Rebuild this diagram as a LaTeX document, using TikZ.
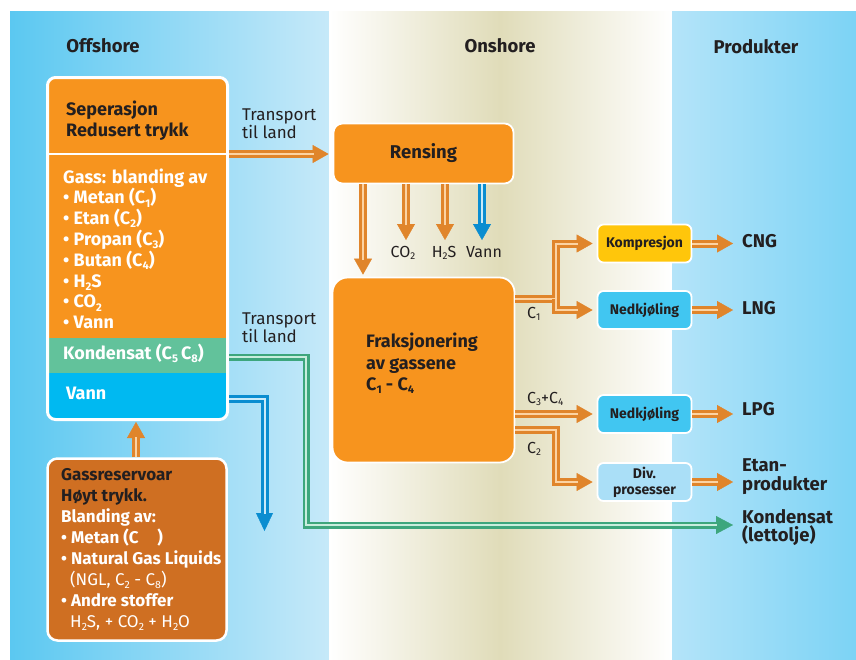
\documentclass[tikz,border=0pt]{standalone}
\usepackage{fontspec}
\setmainfont{Fira Sans}
\usepackage{graphicx}
\usetikzlibrary{arrows.meta}
\definecolor{offL}{HTML}{5BC8F1}
\definecolor{offR}{HTML}{C6E9F9}
\definecolor{onMid}{HTML}{E0DCB9}
\definecolor{prodL}{HTML}{B4E4F9}
\definecolor{prodR}{HTML}{7CD3F5}
\definecolor{orB}{HTML}{F7941E}
\definecolor{grK}{HTML}{62C29B}
\definecolor{blV}{HTML}{00B9F1}
\definecolor{gres}{HTML}{CF6F22}
\definecolor{kompY}{HTML}{FFC60B}
\definecolor{nedB}{HTML}{41C6F1}
\definecolor{divB}{HTML}{AADFF7}
\definecolor{dk}{HTML}{231F20}
\definecolor{pO}{HTML}{E0852B}
\definecolor{pOl}{HTML}{FCD3A2}
\definecolor{pG}{HTML}{3DA67D}
\definecolor{pGl}{HTML}{C8EDDD}
\definecolor{pB}{HTML}{0A8DD0}
\definecolor{pBl}{HTML}{C9EAF9}
\newcommand\sbs[1]{\raisebox{-0.35ex}{\scalebox{0.62}{#1}}}
\begin{document}
\begin{tikzpicture}[x=1pt,y=-1pt,
  hd/.style={font=\fontsize{18.5}{21}\selectfont\bfseries, text=dk, anchor=base, inner sep=0},
  dtxt/.style={font=\fontsize{18}{21}\selectfont\bfseries, text=dk, anchor=base west, inner sep=0},
  wtxt/.style={font=\fontsize{18}{21}\selectfont\bfseries, text=white, anchor=base west, inner sep=0},
  rtxt/.style={font=\fontsize{17}{19}\selectfont\bfseries, anchor=base west, inner sep=0},
  wreg/.style={font=\fontsize{17}{19}\selectfont, text=white, anchor=base west, inner sep=0},
  reg/.style={font=\fontsize{17}{20}\selectfont, text=dk, anchor=base west, inner sep=0},
  lab/.style={font=\fontsize{16}{19}\selectfont, text=dk, anchor=base, inner sep=0},
  prd/.style={font=\fontsize{18.5}{21}\selectfont\bfseries, text=dk, anchor=base west, inner sep=0},
  bx/.style={draw=white, line width=1.8pt, inner sep=0, align=center, text=dk},
  sbx/.style={bx, rounded corners=6pt, minimum width=94pt, minimum height=38pt, font=\fontsize{14}{16}\selectfont\bfseries},
  opipe/.style={line width=8pt, draw=pO, line join=miter, -{Triangle[width=18pt,length=16pt,line width=0.4pt]},
     postaction={draw=pOl, line width=2pt, -, shorten >=15pt}},
  gpipe/.style={line width=7pt, draw=pG, line join=miter, -{Triangle[width=18pt,length=17pt,line width=0.4pt]},
     postaction={draw=pGl, line width=2pt, -, shorten >=16pt}},
  bpipe/.style={line width=8pt, draw=pB, line join=miter, -{Triangle[width=17pt,length=18pt,line width=0.4pt]},
     postaction={draw=pBl, line width=2pt, -, shorten >=17pt}}
]
\useasboundingbox (0,0) rectangle (856,659);
\fill[white] (0,0) rectangle (856,659);
% background panels
\shade[left color=offL,right color=offR] (10,11) rectangle (329,659);
\shade[left color=white,right color=onMid] (329,11) rectangle (500,659);
\shade[left color=onMid,right color=white] (500,11) rectangle (672,659);
\shade[left color=prodL,right color=prodR] (672,11) rectangle (856,659);
% headings
\node[hd] (hoff) at (103,52) {Offshore};
\node[hd] (hon) at (500,52) {Onshore};
\node[hd] (hprod) at (756,53) {Produkter};
% separation box
\begin{scope}
\clip[rounded corners=7pt] (47.5,77.5) rectangle (227.5,419.5);
\fill[orB] (46,76) rectangle (229,338);
\fill[grK] (46,338) rectangle (229,373);
\fill[blV] (46,373) rectangle (229,421);
\draw[white, line width=1.2pt] (46,154) -- (229,154);
\end{scope}
\node[draw=white, line width=3pt, rounded corners=8pt, minimum width=180pt, minimum height=342pt, inner sep=0] (sep) at (137.5,248.5) {};
\node[dtxt] (s1) at (66,115) {Seperasjon};
\node[dtxt] (s2) at (66,136) {Redusert trykk};
\node[wtxt] (g0) at (63,183) {Gass: blanding av};
\foreach \t [count=\i] in {{Metan (C\sbs{1})},{Etan (C\sbs{2})},{Propan (C\sbs{3})},{Butan (C\sbs{4})},{H\sbs{2}S},{CO\sbs{2}},{Vann}}
  \node[wtxt] (g\i) at (63,{183+20.8*\i}) {• \t};
\node[wtxt] (kond) at (63,359) {Kondensat (C\sbs{5}\,C\sbs{8})};
\node[wtxt] (vann) at (66,399) {Vann};
% gas reservoir box
\node[draw=white, line width=2.5pt, fill=gres, rounded corners=10pt, minimum width=179pt, minimum height=182pt, inner sep=0] (gasres) at (137,549.5) {};
\node[rtxt, text=dk] (r1) at (61,480) {Gassreservoar};
\node[rtxt, text=dk] (r2) at (61,501) {Høyt trykk.};
\node[rtxt, text=white] (r3) at (61,522) {Blanding av:};
\node[rtxt, text=white] (r4) at (61,543) {• Metan (C\hspace{1.1em})};
\node[rtxt, text=white] (r5) at (61,564) {• Natural Gas Liquids};
\node[wreg] (r6) at (70,585) {(NGL, C\sbs{2} - C\sbs{8})};
\node[rtxt, text=white] (r7) at (61,606) {• Andre stoffer};
\node[wreg] (r8) at (70,627) {H\sbs{2}S, + CO\sbs{2} + H\sbs{2}O};
% transport labels
\node[reg] (tr1) at (242,120) {Transport};
\node[reg] (tr1b) at (242,138) {til land};
\node[reg] (tr2) at (242,324) {Transport};
\node[reg] (tr2b) at (242,342) {til land};
% onshore boxes
\node[bx, fill=orB, rounded corners=9pt, minimum width=180pt, minimum height=60pt, font=\fontsize{18.5}{21}\selectfont\bfseries] (rens) at (423.5,153.5) {Rensing};
\node[bx, fill=orB, rounded corners=15pt, minimum width=182pt, minimum height=185pt] (frak) at (423.5,370) {};
\node[dtxt] (f1) at (366,347) {Fraksjonering};
\node[dtxt] (f2) at (366,369) {av gassene};
\node[dtxt] (f3) at (366,390) {C\sbs{1} - C\sbs{4}};
\node[sbx, fill=kompY] (komp) at (644.5,243.5) {Kompresjon};
\node[sbx, fill=nedB] (ned1) at (644.5,310) {Nedkjøling};
\node[sbx, fill=nedB] (ned2) at (644.5,414) {Nedkjøling};
\node[sbx, fill=divB, font=\fontsize{14}{16}\selectfont\bfseries] (div) at (644.5,482) {Div.\\prosesser};
% labels
\node[lab] (lco2) at (403,257) {CO\sbs{2}};
\node[lab] (lh2s) at (444,257) {H\sbs{2}S};
\node[lab] (lvann) at (484,257) {Vann};
\node[reg, font=\fontsize{16}{19}\selectfont] (lc1) at (527,318) {C\sbs{1}};
\node[reg, font=\fontsize{16}{19}\selectfont] (lc34) at (527,403) {C\sbs{3}+C\sbs{4}};
\node[reg, font=\fontsize{16}{19}\selectfont] (lc2) at (527,453) {C\sbs{2}};
% products
\node[prd] (cng) at (742,247) {CNG};
\node[prd] (lng) at (742,314) {LNG};
\node[prd] (lpg) at (742,415) {LPG};
\node[prd] (etan) at (742,471) {Etan-};
\node[prd] (etan2) at (742,490) {produkter};
\node[prd] (kprod) at (742,523) {Kondensat};
\node[prd] (kprod2) at (742,541) {(lettolje)};
% coordinates
\coordinate (eco2) at (406,240);
\coordinate (eh2s) at (445,240);
\coordinate (evann) at (482,240);
\coordinate (c1j) at (556,299);
\coordinate (c2j) at (556,430);
\coordinate (gk1) at (306,357);
\coordinate (gk2) at (306,525);
\coordinate (vend) at (264.5,531);
% connectors
\draw[gpipe] (sep.east |- gk1) -- (gk1) -- (gk2) -- ([xshift=-9pt]kprod.west |- gk2);
\draw[bpipe] (sep.east |- 0,399) -| (vend);
\draw[opipe] (sep.east |- 0,154) -- ([xshift=-4pt]rens.west |- 0,154);
\draw[opipe] (gasres.north -| 136,0) -- ([yshift=-1pt]sep.south -| 136,0);
\draw[opipe] (rens.south -| 363,0) -- ([yshift=2pt]frak.north -| 363,0);
\draw[opipe] (rens.south -| eco2) -- (eco2);
\draw[opipe] (rens.south -| eh2s) -- (eh2s);
\draw[bpipe, line width=8pt, -{Triangle[width=18pt,length=16pt,line width=0.4pt]}, postaction={shorten >=15pt}] (rens.south -| evann) -- (evann);
\draw[opipe] (frak.east |- c1j) -- (c1j) |- ([xshift=-4pt]komp.west);
\draw[opipe] (c1j) |- ([xshift=-4pt]ned1.west);
\draw[opipe] (frak.east |- ned2) -- ([xshift=-4pt]ned2.west);
\draw[opipe] (frak.east |- c2j) -- (c2j) |- ([xshift=-4pt]div.west);
\draw[opipe] (komp.east) -- ([xshift=-9pt]cng.west |- komp.east);
\draw[opipe] (ned1.east) -- ([xshift=-9pt]lng.west |- ned1.east);
\draw[opipe] (ned2.east) -- ([xshift=-9pt]lpg.west |- ned2.east);
\draw[opipe] (div.east) -- ([xshift=-9pt]etan.west |- div.east);
\end{tikzpicture}
\end{document}
